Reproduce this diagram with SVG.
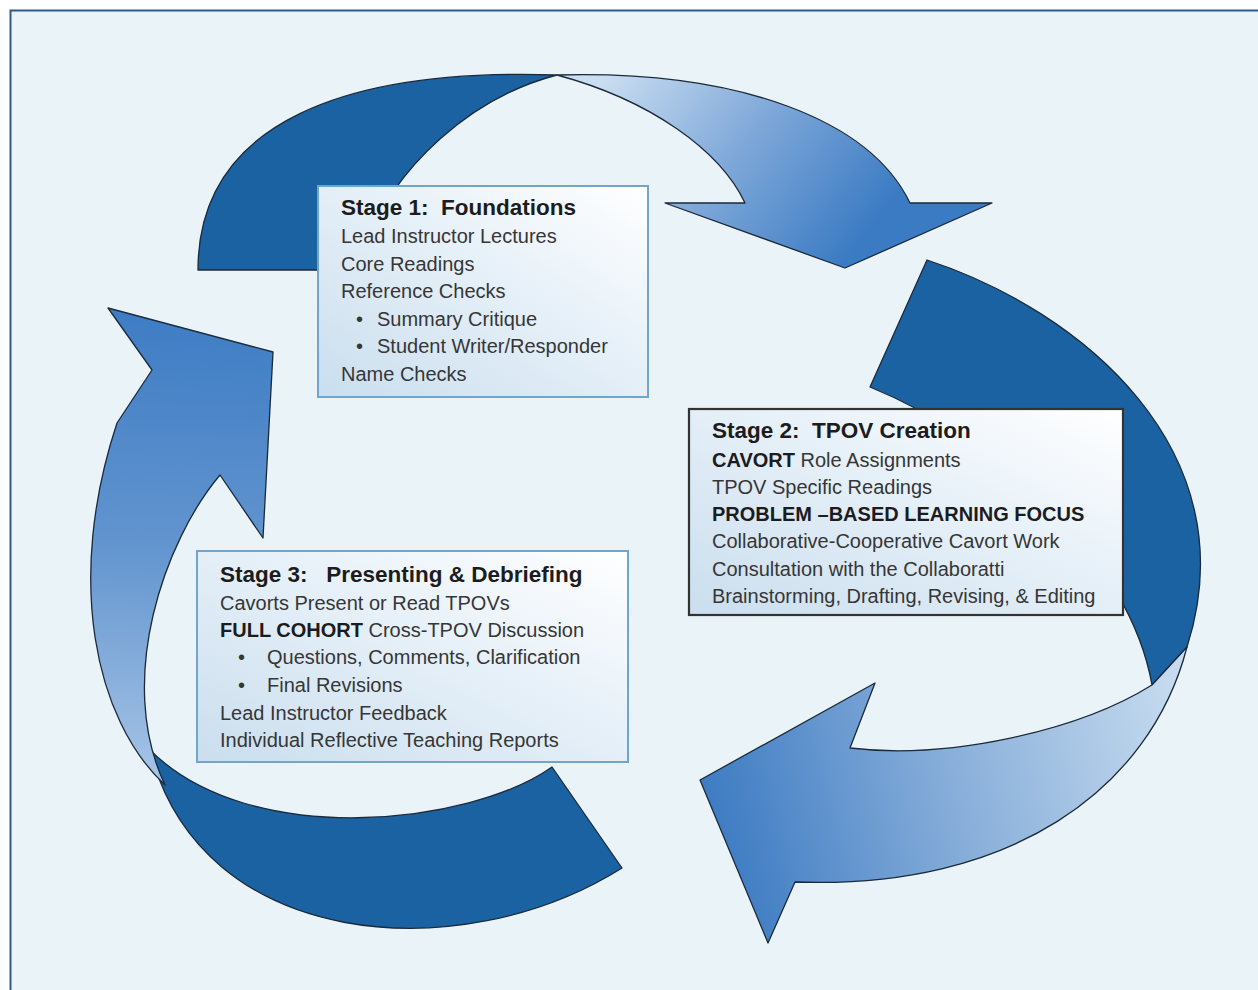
<svg xmlns="http://www.w3.org/2000/svg" width="1258" height="990" viewBox="0 0 1258 990">
<defs>
<linearGradient id="boxFill" x1="1" y1="0" x2="0" y2="1">
<stop offset="0" stop-color="#ffffff"/>
<stop offset="0.45" stop-color="#e6f0f8"/>
<stop offset="1" stop-color="#cadeee"/>
</linearGradient>
<linearGradient id="g1" gradientUnits="userSpaceOnUse" x1="600" y1="80" x2="840" y2="268">
<stop offset="0" stop-color="#cadef1"/>
<stop offset="0.5" stop-color="#7fa8d9"/>
<stop offset="1" stop-color="#3b7bc3"/>
</linearGradient>
<linearGradient id="g2" gradientUnits="userSpaceOnUse" x1="1180" y1="700" x2="700" y2="820">
<stop offset="0" stop-color="#c6dbef"/>
<stop offset="0.5" stop-color="#86add9"/>
<stop offset="1" stop-color="#3a79c2"/>
</linearGradient>
<linearGradient id="g3" gradientUnits="userSpaceOnUse" x1="170" y1="790" x2="190" y2="310">
<stop offset="0" stop-color="#a9c6e7"/>
<stop offset="0.5" stop-color="#6395cf"/>
<stop offset="1" stop-color="#3d7cc4"/>
</linearGradient>
</defs>
<style>
.dark{fill:#1b62a3;stroke:#1a2a3a;stroke-width:1.3;stroke-linejoin:round}
.lite{stroke:#1a2a3a;stroke-width:1.3;stroke-linejoin:round}
.box{fill:url(#boxFill);stroke:#6fa6cd;stroke-width:2}
.box2{fill:url(#boxFill);stroke:#333;stroke-width:2.2}
text{font-family:"Liberation Sans",Arial,sans-serif;white-space:pre}
.h{font-size:22.5px;font-weight:bold;fill:#1c1c1c}
.t{font-size:20px;fill:#363636}
.b{font-weight:bold;fill:#1c1c1c}
</style>
<rect x="0" y="0" width="1258" height="990" fill="#ffffff"/>
<rect x="10.5" y="10.5" width="1260" height="1000" fill="#eaf3f8" stroke="#2d5d88" stroke-width="2"/>
<g id="connectors">
<path id="arrow1-back" class="dark" d="M198,270 C198,120 350,68 557,75 C480,95 390,160 355,270 Z"/>
<path id="arrow1-head" class="lite" fill="url(#g1)" d="M557,75 C740,70 870,120 910,203 L992,203 L845,268 L665,203 L745,203 C720,150 650,100 557,75 Z"/>
<path id="arrow2-back" class="dark" d="M927,260 C1080,310 1250,450 1187,647 L1152,685 C1130,560 1000,440 870,387 Z"/>
<path id="arrow2-head" class="lite" fill="url(#g2)" d="M1152,685 L1187,647 C1150,790 1010,890 795,882 L768,943 L700,780 L875,683 L850,748 C950,760 1080,730 1152,685 Z"/>
<path id="arrow3-back" class="dark" d="M150,750 C200,950 460,970 622,868 L552,767 C470,825 250,850 150,750 Z"/>
<path id="arrow3-head" class="lite" fill="url(#g3)" d="M165,785 C95,720 65,580 117,423 L152,370 L108,308 L273,352 L263,538 L220,475 C165,540 115,680 165,785 Z"/>
</g>
<g id="stage1">
<rect class="box" x="318" y="186" width="330" height="211"/>
<text class="h" x="341" y="215">Stage 1:  Foundations</text>
<text class="t" x="341" y="243">Lead Instructor Lectures</text>
<text class="t" x="341" y="271">Core Readings</text>
<text class="t" x="341" y="298">Reference Checks</text>
<text class="t" y="326"><tspan x="356">•</tspan><tspan x="377">Summary Critique</tspan></text>
<text class="t" y="353"><tspan x="356">•</tspan><tspan x="377">Student Writer/Responder</tspan></text>
<text class="t" x="341" y="381">Name Checks</text>
</g>
<g id="stage2">
<rect class="box2" x="689" y="409" width="434" height="206"/>
<text class="h" x="712" y="438">Stage 2:  TPOV Creation</text>
<text class="t" x="712" y="467"><tspan class="b">CAVORT</tspan> Role Assignments</text>
<text class="t" x="712" y="494">TPOV Specific Readings</text>
<text class="t b" x="712" y="521">PROBLEM –BASED LEARNING FOCUS</text>
<text class="t" x="712" y="548">Collaborative-Cooperative Cavort Work</text>
<text class="t" x="712" y="576">Consultation with the Collaboratti</text>
<text class="t" x="712" y="603">Brainstorming, Drafting, Revising, &amp; Editing</text>
</g>
<g id="stage3">
<rect class="box" x="197" y="551" width="431" height="211"/>
<text class="h" x="220" y="582">Stage 3:   Presenting &amp; Debriefing</text>
<text class="t" x="220" y="610">Cavorts Present or Read TPOVs</text>
<text class="t" x="220" y="637"><tspan class="b">FULL COHORT</tspan> Cross-TPOV Discussion</text>
<text class="t" y="664"><tspan x="238">•</tspan><tspan x="267">Questions, Comments, Clarification</tspan></text>
<text class="t" y="692"><tspan x="238">•</tspan><tspan x="267">Final Revisions</tspan></text>
<text class="t" x="220" y="720">Lead Instructor Feedback</text>
<text class="t" x="220" y="747">Individual Reflective Teaching Reports</text>
</g>
</svg>
